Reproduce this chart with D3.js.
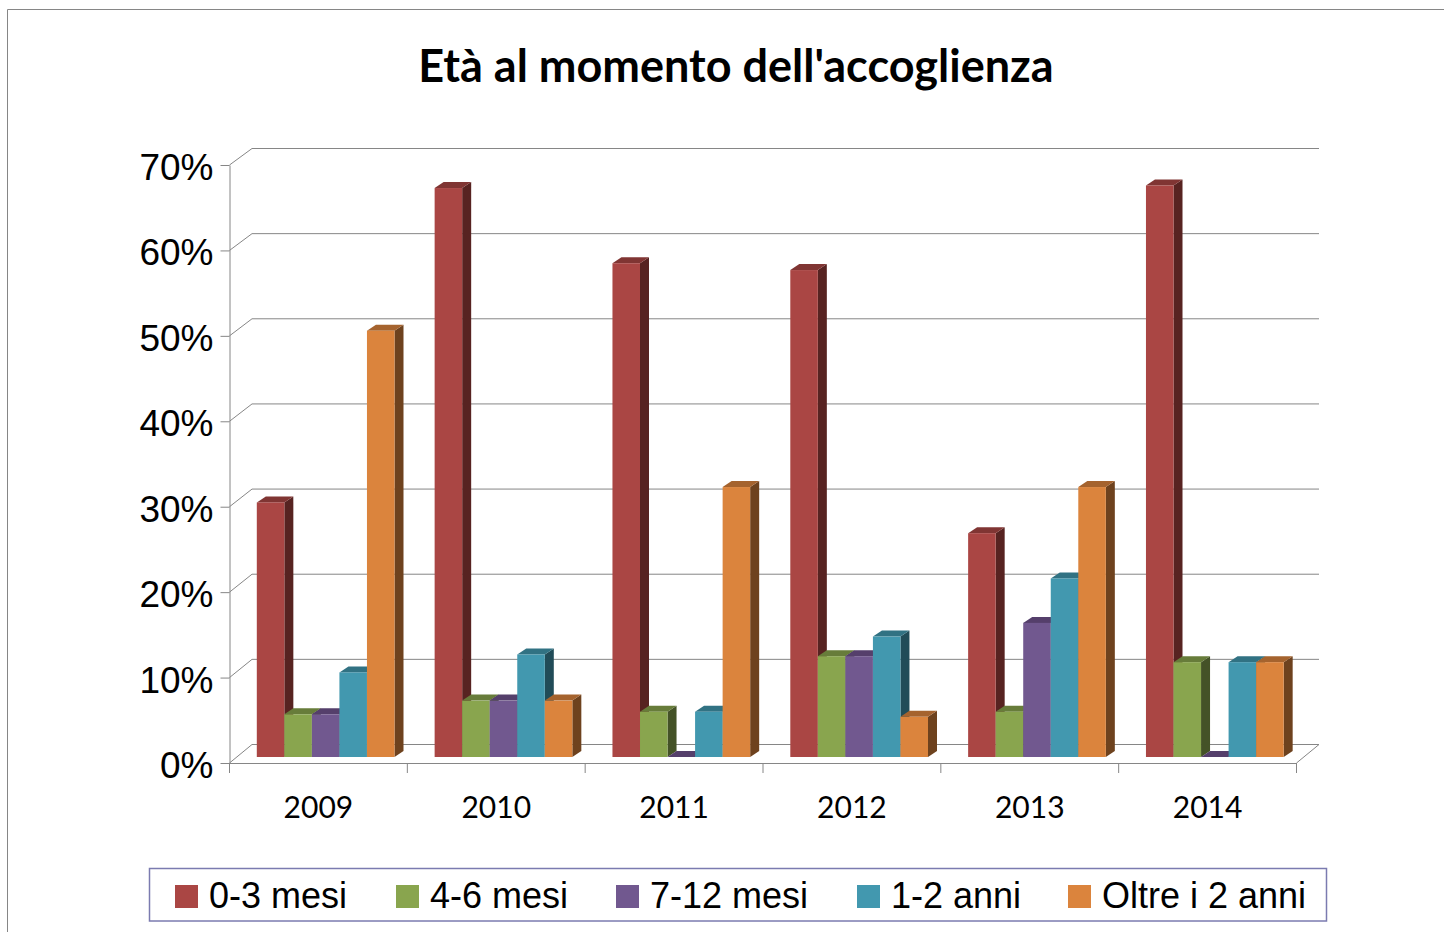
<!DOCTYPE html>
<meta charset="utf-8">
<style>
body { margin: 0; background: #fff; }
svg { display: block; }
.line { stroke: #868686; stroke-width: 1; fill: none; }
.axis path, .axis line { stroke: #868686; }
.yaxis text { font: 37px "Liberation Sans", sans-serif; fill: #000; }
.xaxis text { font: 30px Lato, sans-serif; fill: #000; }
.title { font: bold 45px Lato, sans-serif; fill: #000; text-anchor: middle; }
.legend text { font: 36px "Liberation Sans", sans-serif; fill: #000; }
</style>
<svg width="1444" height="932"></svg>
<script src="https://d3js.org/d3.v7.min.js"></script>
<script>

var years = ["2009", "2010", "2011", "2012", "2013", "2014"];
var seriesNames = ["0-3 mesi", "4-6 mesi", "7-12 mesi", "1-2 anni", "Oltre i 2 anni"];

// one array per series, same order as years
var mesi03 = [29.8, 66.6, 57.8, 57, 26.2, 66.9];
var mesi46 = [5, 6.6, 5.3, 11.8, 5.3, 11.1];
var mesi712 = [5, 6.6, 0, 11.8, 15.7, 0];
var anni12 = [9.9, 12, 5.3, 14.1, 20.9, 11.1];
var oltre2 = [49.9, 6.6, 31.6, 4.7, 31.6, 11.1];
var seriesValues = [mesi03, mesi46, mesi712, anni12, oltre2];

var yTicks = [0, 10, 20, 30, 40, 50, 60, 70];

// front, top and side colour of each series
var frontColors = ["#aa4644", "#89a54e", "#71588f", "#4298af", "#db843d"];
var topColors = ["#803533", "#677c3a", "#553f6b", "#317283", "#a5632e"];
var sideColors = ["#572321", "#445227", "#392c48", "#214c58", "#6e421e"];

var legendX = [175, 396, 616, 857, 1068];

var svg = d3.select("svg");

// chart frame, runs off the page right and bottom
svg.append("path").attr("class", "line").attr("d", "M7.5,932V9.5H1444");

svg.append("text").attr("class", "title").attr("x", 736).attr("y", 82)
    .text("Età al momento dell'accoglienza");

var left = 229.5, right = 1296.5, bottom = 763, top_ = 165;
var wallDx = 22.5;                  // depth of the back wall
var barDx = 9, barDy = -6;          // depth of one bar
var barFloor = -6;                  // bars stand a little behind the front edge

var x0 = d3.scaleBand().domain(years).range([left, right]);
var x1 = d3.scaleBand().domain(d3.range(seriesNames.length)).range([27.3, 165]);
var y = d3.scaleLinear().domain([0, 70]).range([bottom, top_]);
var yBack = d3.scaleLinear().domain([0, 70]).range([744.5, 148.5]);

// gridlines on the wall
var grid = svg.append("g");
grid.selectAll("path").data(yTicks).enter().append("path")
    .attr("class", "line")
    .attr("d", function(d) {
        return "M" + left + "," + y(d) + "L" + (left + wallDx) + "," + yBack(d) + "H" + (right + wallDx);
    });

// floor
svg.append("path").attr("class", "line")
    .attr("d", "M" + right + "," + bottom + "L" + (right + wallDx) + "," + yBack(0));

// axes
svg.append("g").attr("class", "axis yaxis")
    .attr("transform", "translate(" + left + ",0)")
    .call(d3.axisLeft(y).tickValues(yTicks).tickSize(9).tickSizeOuter(0).tickPadding(7)
        .tickFormat(function(d) { return d + "%"; }))
    .selectAll("text").attr("dy", "0.39em");

svg.append("g").attr("class", "axis xaxis")
    .attr("transform", "translate(0," + bottom + ")")
    .call(d3.axisBottom(x0).tickSize(0).tickSizeOuter(0).tickPadding(34));

// category ticks sit between the groups
svg.append("g").selectAll("line").data(years.concat(["end"])).enter().append("line")
    .attr("class", "line")
    .attr("x1", function(d, i) { return left + i * x0.step(); })
    .attr("x2", function(d, i) { return left + i * x0.step(); })
    .attr("y1", bottom).attr("y2", bottom + 10);

// bars, drawn left to right so each one hides the side of the last
var bars = [];
years.forEach(function(year, yi) {
    seriesNames.forEach(function(name, si) {
        bars.push({ year: year, s: si, value: seriesValues[si][yi] });
    });
});

var bar = svg.append("g").selectAll("g").data(bars).enter().append("g")
    .attr("transform", function(d) {
        return "translate(" + (x0(d.year) + x1(d.s)) + "," + barFloor + ")";
    });

var bw = x1.bandwidth();

bar.append("path").attr("fill", function(d) { return sideColors[d.s]; })
    .attr("d", function(d) {
        return "M" + bw + "," + y(d.value) + "l" + barDx + "," + barDy +
            "V" + (bottom + barDy) + "l" + (-barDx) + "," + (-barDy) + "Z";
    });

bar.append("path").attr("fill", function(d) { return topColors[d.s]; })
    .attr("d", function(d) {
        return "M0," + y(d.value) + "l" + barDx + "," + barDy + "h" + bw +
            "l" + (-barDx) + "," + (-barDy) + "Z";
    });

bar.append("rect").attr("fill", function(d) { return frontColors[d.s]; })
    .attr("x", 0).attr("width", bw)
    .attr("y", function(d) { return y(d.value); })
    .attr("height", function(d) { return bottom - y(d.value); });

// legend
var legend = svg.append("g").attr("class", "legend");
legend.append("rect").attr("x", 149.5).attr("y", 868.5).attr("width", 1177).attr("height", 52.5)
    .attr("fill", "#fff").attr("stroke", "#7b7bb0").attr("stroke-width", 1.5);

var item = legend.selectAll("g").data(seriesNames).enter().append("g")
    .attr("transform", function(d, i) { return "translate(" + legendX[i] + ",885)"; });
item.append("rect").attr("width", 23).attr("height", 23)
    .attr("fill", function(d, i) { return frontColors[i]; });
item.append("text").attr("x", 34).attr("y", 23).text(function(d) { return d; });

</script>
